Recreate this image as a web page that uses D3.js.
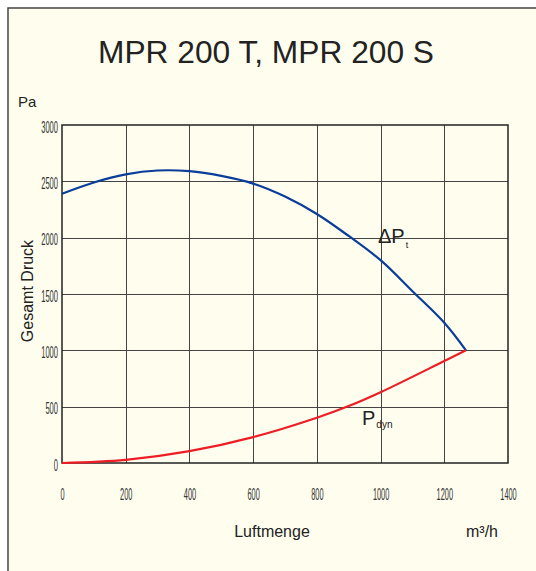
<!DOCTYPE html>
<html><head><meta charset="utf-8">
<script src="https://cdn.jsdelivr.net/npm/d3@7"></script>
<style>
html,body{margin:0;padding:0;background:#fff;}
svg{display:block;}
</style></head>
<body>
<svg id="chart" width="536" height="571"></svg>
<script>
const title = "MPR 200 T, MPR 200 S";
const xTicks = [0,200,400,600,800,1000,1200,1400];
const yTicks = [0,500,1000,1500,2000,2500,3000];
const dpFlow = [0,100,200,300,400,500,600,700,800,900,1000,1100,1200,1268];
const dpValues = [2390,2490,2562,2596,2590,2548,2480,2365,2210,2015,1800,1525,1245,1000];
const dynFlow = [0,200,400,600,800,900,1000,1200,1268];
const dynValues = [0,28,105,230,402,505,628,905,1000];

const svg = d3.select("#chart");
svg.append("rect").attr("x",8).attr("y",8).attr("width",540).attr("height",580)
  .attr("fill","#fffeee").attr("stroke","#444").attr("stroke-width",1.5);

const x = d3.scaleLinear().domain([0,1400]).range([62,508]);
const y = d3.scaleLinear().domain([0,3000]).range([463,125]);

svg.append("text").attr("x",266).attr("y",63).attr("text-anchor","middle")
  .attr("font-family","'Liberation Sans', Arial, sans-serif").attr("font-size",31)
  .attr("textLength",336).attr("lengthAdjust","spacingAndGlyphs")
  .attr("fill","#222").text(title);

// grid
const g = svg.append("g");
g.selectAll("line.v").data(xTicks.slice(1,-1)).join("line")
  .attr("x1",d=>Math.round(x(d))+0.5).attr("x2",d=>Math.round(x(d))+0.5)
  .attr("y1",y(3000)).attr("y2",y(0)).attr("stroke","#444").attr("stroke-width",1);
g.selectAll("line.h").data(yTicks.slice(1,-1)).join("line")
  .attr("y1",d=>Math.round(y(d))+0.5).attr("y2",d=>Math.round(y(d))+0.5)
  .attr("x1",x(0)).attr("x2",x(1400)).attr("stroke","#444").attr("stroke-width",1);
svg.append("rect").attr("x",x(0)).attr("y",y(3000)).attr("width",x(1400)-x(0)).attr("height",y(0)-y(3000))
  .attr("fill","none").attr("stroke","#222").attr("stroke-width",1.5);

// axes labels
const tickFont = "'Liberation Sans', Arial, sans-serif";
const xAxis = svg.append("g").attr("transform",`translate(0,${y(0)})`)
  .call(d3.axisBottom(x).tickValues(xTicks).tickSize(0).tickFormat(d3.format("d")));
xAxis.select(".domain").remove();
xAxis.selectAll("text").attr("y",37).attr("dy",0)
  .attr("font-family",tickFont).attr("font-size",16).attr("fill","#333")
  .attr("textLength",d=>String(d).length*4.1).attr("lengthAdjust","spacingAndGlyphs");

const yAxis = svg.append("g").attr("transform",`translate(58,0)`)
  .call(d3.axisLeft(y).tickValues(yTicks).tickSize(0).tickFormat(d3.format("d")));
yAxis.select(".domain").remove();
yAxis.selectAll("text").attr("x",0).attr("dy","0.45em")
  .attr("font-family",tickFont).attr("font-size",16).attr("fill","#333")
  .attr("textLength",d=>String(d).length*4.2).attr("lengthAdjust","spacingAndGlyphs");

const lf = "'Liberation Sans', Arial, sans-serif";
svg.append("text").attr("x",18).attr("y",107).attr("font-family",lf).attr("font-size",15).attr("fill","#222").text("Pa");
svg.append("text").attr("transform","translate(33,291) rotate(-90)").attr("text-anchor","middle")
  .attr("font-family",lf).attr("font-size",16).attr("fill","#222").text("Gesamt Druck");
svg.append("text").attr("x",272).attr("y",537).attr("text-anchor","middle")
  .attr("font-family",lf).attr("font-size",16).attr("fill","#222").text("Luftmenge");
svg.append("text").attr("x",466).attr("y",537)
  .attr("font-family",lf).attr("font-size",16).attr("fill","#222").text("m³/h");

// curves
const line = d3.line().x(d=>x(d[0])).y(d=>y(d[1])).curve(d3.curveCatmullRom.alpha(0.5));
svg.append("path").datum(dpFlow.map((f,i)=>[f,dpValues[i]])).attr("d",line)
  .attr("fill","none").attr("stroke","#0a3d9a").attr("stroke-width",2.2);
svg.append("path").datum(dynFlow.map((f,i)=>[f,dynValues[i]])).attr("d",line)
  .attr("fill","none").attr("stroke","#ee1c25").attr("stroke-width",2.2);

// curve labels
const t1 = svg.append("text").attr("x",378).attr("y",243).attr("font-family",lf).attr("fill","#222");
t1.append("tspan").attr("font-size",20).text("ΔP");
t1.append("tspan").attr("font-size",9).attr("dx",1).attr("dy",5).text("t");
const t2 = svg.append("text").attr("x",362).attr("y",425).attr("font-family",lf).attr("fill","#222");
t2.append("tspan").attr("font-size",20).text("P");
t2.append("tspan").attr("font-size",10).attr("dx",1).attr("dy",3).text("dyn");
</script>
</body></html>
